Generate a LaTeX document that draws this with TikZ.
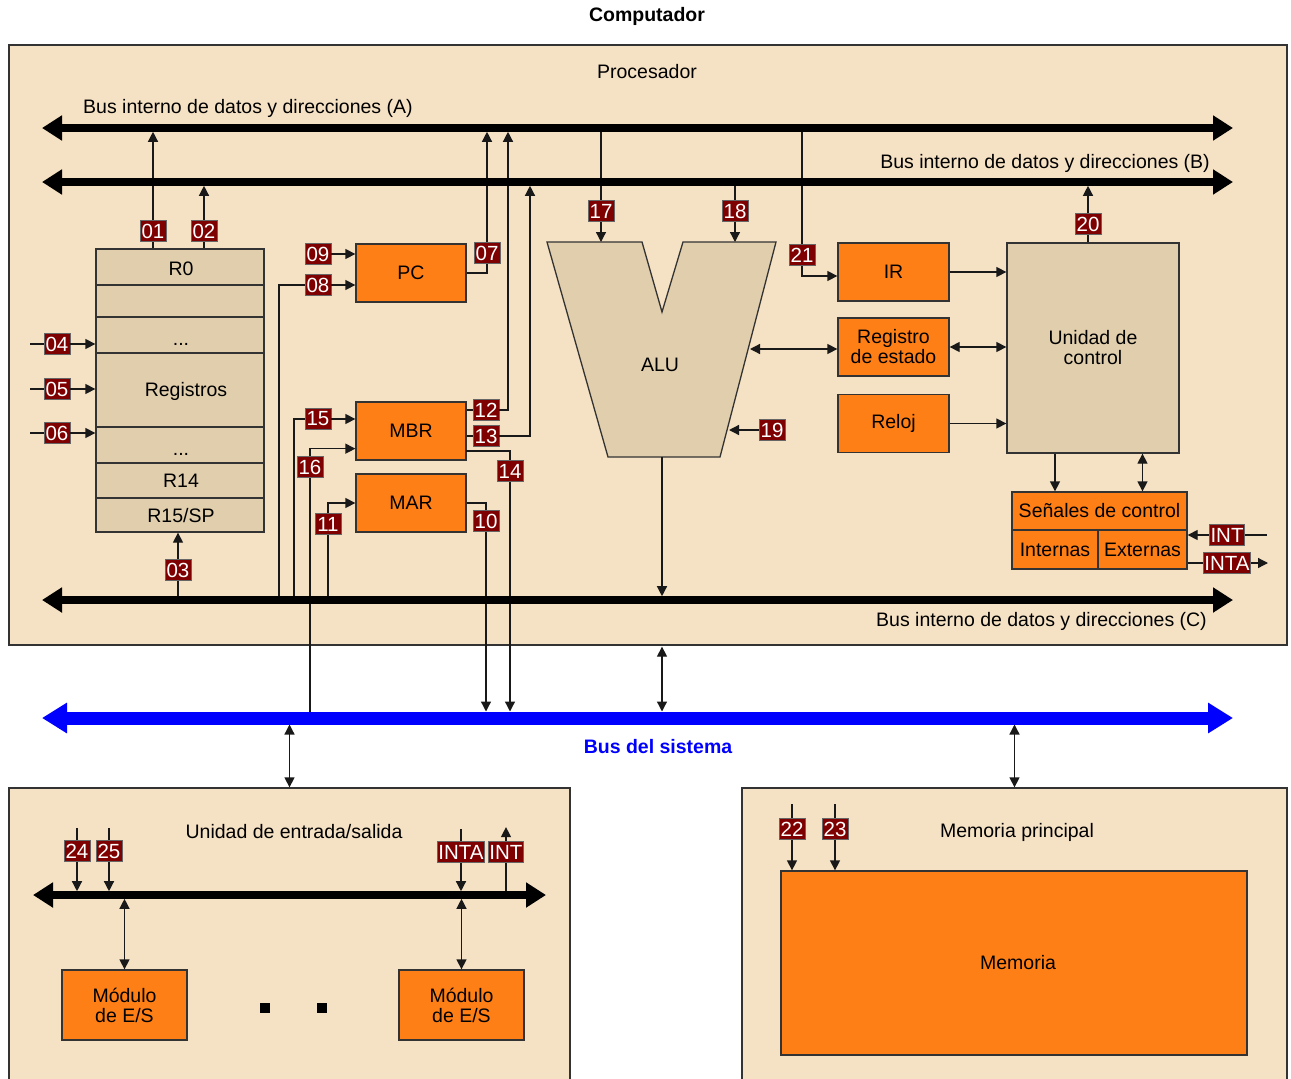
\documentclass[tikz,border=0pt]{standalone}
\usepackage{fontspec}
\setmainfont{Liberation Sans}
\usetikzlibrary{arrows.meta}

\definecolor{panelc}{HTML}{F5E1C3}
\definecolor{tanc}{HTML}{E0CEAD}
\definecolor{orangec}{HTML}{FF7F17}
\definecolor{tagc}{HTML}{7F0000}
\definecolor{framec}{HTML}{333333}
\definecolor{sysblue}{HTML}{0000FF}

\tikzset{
  txt/.style={font=\fontsize{19.5}{20}\selectfont},
  panel/.style={draw=framec,line width=1.3pt,fill=panelc},
  box/.style={draw=framec,line width=1.3pt,fill=orangec,inner sep=0pt,align=center,txt},
  tanbox/.style={box,fill=tanc},
  tag/.style={draw=black!60,line width=0.8pt,fill=tagc,text=white,inner sep=1pt,minimum width=26pt,minimum height=21pt,font=\fontsize{20.5}{21}\selectfont},
  sig/.style={line width=1.3pt,draw=black!90},
  arr/.style={sig,-{Triangle[length=10pt,width=10pt]}},
  biarr/.style={sig,{Triangle[length=10pt,width=10pt]}-{Triangle[length=10pt,width=10pt]}},
  bus/.style={line width=7.5pt,{Triangle[length=20pt,width=24pt]}-{Triangle[length=20pt,width=24pt]}},
  sysbus/.style={line width=13pt,draw=sysblue,{Triangle[length=25pt,width=29pt]}-{Triangle[length=25pt,width=29pt]}},
  tobus/.style={shorten >=3.8pt},
  tosys/.style={shorten >=6.5pt},
}

\begin{document}
\begin{tikzpicture}[x=1pt,y=-1pt]
\useasboundingbox (0,0) rectangle (1291,1079);
\clip (0,0) rectangle (1291,1079);

% frames
\node[font=\fontsize{19.5}{20}\selectfont\bfseries] (title) at (647,16) {Computador};
\node[panel,minimum width=1278pt,minimum height=600pt] (proc) at (648,345) {};
\node[panel,minimum width=561pt,minimum height=320pt] (es) at (289.5,948) {};
\node[panel,minimum width=545pt,minimum height=320pt] (mp) at (1014.5,948) {};

\node[txt] at (647,72) {Procesador};
\node[txt,anchor=west,inner sep=0pt] at (83,108) {Bus interno de datos y direcciones (A)};
\node[txt,anchor=east,inner sep=0pt] at (1210,163) {Bus interno de datos y direcciones (B)};
\node[txt,anchor=east,inner sep=0pt] at (1207,621) {Bus interno de datos y direcciones (C)};
\node[font=\fontsize{19.5}{20}\selectfont\bfseries,text=sysblue] at (658,747) {Bus del sistema};
\node[txt] at (294,832) {Unidad de entrada/salida};
\node[txt] at (1017,832) {Memoria principal};

% buses
\coordinate (busA-w) at (42,128);  \coordinate (busA-e) at (1233,128);
\coordinate (busB-w) at (42,182);  \coordinate (busB-e) at (1233,182);
\coordinate (busC-w) at (42,600);  \coordinate (busC-e) at (1233,600);
\coordinate (sys-w) at (42,718);   \coordinate (sys-e) at (1233,718);
\coordinate (esbus-w) at (33,895); \coordinate (esbus-e) at (546,895);

% registros
\node[tanbox,minimum width=168pt,minimum height=283pt] (regs) at (180,390.5) {};
\foreach \y in {285,317,353,427,463,498}
  \draw[draw=framec,line width=1.3pt] (regs.west |- 0,\y) -- (regs.east |- 0,\y);
\foreach \x/\y/\t in {181/275/R0, 186/396/Registros, 181/487/R14, 181/522/{R15/SP}}
  \node[txt,anchor=base] at (\x,\y) {\t};
\node[txt,anchor=base] at (181,345) {.\kern0pt.\kern0pt.};
\node[txt,anchor=base] at (181,455) {.\kern0pt.\kern0pt.};

% registros de la CPU
\node[box,minimum width=110pt,minimum height=58pt] (pc) at (411,273) {PC};
\node[box,minimum width=110pt,minimum height=58pt] (mbr) at (411,431) {MBR};
\node[box,minimum width=110pt,minimum height=58pt] (mar) at (411,503) {MAR};

% ALU
\coordinate (alu-nw) at (547,242);
\coordinate (alu-s) at (662,457);
\draw[draw=framec,line width=1.3pt,fill=tanc] (alu-nw) -- (642,242) -- (662,312) -- (683,242)
  -- (776,242) -- (720,457) -- (608,457) -- cycle;
\node[txt] (alu) at (660,365) {ALU};
\coordinate (alu-e) at (750,349);
\coordinate (alu-in) at (729,430);

% control
\node[box,minimum width=111pt,minimum height=58pt] (ir) at (893.5,272) {IR};
\node[box,minimum width=111pt,minimum height=58pt] (est) at (893.5,347) {Registro\\de estado};
\node[box,minimum width=111pt,minimum height=58pt] (reloj) at (893.5,423.5) {Reloj};
\node[tanbox,minimum width=172pt,minimum height=210pt] (uc) at (1093,348) {Unidad de\\control};
\node[box,minimum width=175pt,minimum height=38pt] (sen) at (1099.5,511) {Se\~nales de control};
\node[box,minimum width=86pt,minimum height=39pt] (int) at (1055,549.5) {Internas};
\node[box,minimum width=89pt,minimum height=39pt] (ext) at (1142.5,549.5) {Externas};

% entrada/salida y memoria
\node[box,minimum width=125pt,minimum height=70pt] (mod1) at (124.5,1005) {M\'odulo\\de E/S};
\node[box,minimum width=125pt,minimum height=70pt] (mod2) at (461.5,1005) {M\'odulo\\de E/S};
\foreach \x in {265,322}
  \fill (\x-5,1003) rectangle (\x+5,1013);
\node[box,minimum width=466pt,minimum height=184pt] (mem) at (1014,963) {\hspace*{8pt}Memoria};

% etiquetas
\node[tag] (t01) at (153,231) {01};
\node[tag] (t02) at (204,231) {02};
\node[tag] (t03) at (178,570) {03};
\node[tag] (t04) at (57,344) {04};
\node[tag] (t05) at (57,389) {05};
\node[tag] (t06) at (57,433) {06};
\node[tag] (t07) at (487,253) {07};
\node[tag] (t08) at (318,285) {08};
\node[tag] (t09) at (318,254) {09};
\node[tag] (t10) at (486,521) {10};
\node[tag] (t11) at (328,524) {11};
\node[tag] (t12) at (486,410) {12};
\node[tag] (t13) at (486,436) {13};
\node[tag] (t14) at (510,471) {14};
\node[tag] (t15) at (318,419) {15};
\node[tag] (t16) at (310,467) {16};
\node[tag] (t17) at (601,211) {17};
\node[tag] (t18) at (735,211) {18};
\node[tag] (t19) at (772,430) {19};
\node[tag] (t20) at (1088,224) {20};
\node[tag] (t21) at (802,255) {21};
\node[tag] (t22) at (792,829) {22};
\node[tag] (t23) at (835,829) {23};
\node[tag] (t24) at (77,851) {24};
\node[tag] (t25) at (109,851) {25};
\node[tag] (tint) at (1227,535) {INT};
\node[tag] (tinta) at (1227,563) {INTA};
\node[tag] (tinta2) at (461,852) {INTA};
\node[tag] (tint2) at (506,852) {INT};

% conexiones registros
\draw[sig] (regs.north -| t01) -- (t01.south);
\draw[arr,tobus] (t01.north) -- (t01 |- busA-w);
\draw[sig] (regs.north -| t02) -- (t02.south);
\draw[arr,tobus] (t02.north) -- (t02 |- busB-w);
\draw[sig] (t03 |- busC-w) -- (t03.south);
\draw[arr] (t03.north) -- (t03 |- regs.south);
\foreach \t in {04,05,06}{
  \draw[sig] (t\t.west) -- ++(-14,0);
  \draw[arr] (t\t.east) -- (t\t -| regs.west);
}

% PC, MBR, MAR
\coordinate (j08) at (279,600);
\coordinate (j15) at (294,600);
\coordinate (j11) at (328,600);
\coordinate (j16) at (310,718);
\coordinate (up12) at (508,128);
\coordinate (up13) at (530,182);
\coordinate (o14) at (466,451);
\draw[arr] (t09.east) -- (t09 -| pc.west);
\draw[sig] (j08) |- (t08.west);
\draw[arr] (t08.east) -- (t08 -| pc.west);
\draw[sig] (pc.east) -| (t07.south);
\draw[arr,tobus] (t07.north) -- (t07 |- busA-w);
\draw[sig] (t12 -| mbr.east) -- (t12.west);
\draw[arr,tobus] (t12.east) -| (up12);
\draw[sig] (t13 -| mbr.east) -- (t13.west);
\draw[arr,tobus] (t13.east) -| (up13);
\draw[sig] (o14) -| (t14.north);
\draw[arr,tosys] (t14.south) -- (t14 |- sys-w);
\draw[sig] (j15) |- (t15.west);
\draw[arr] (t15.east) -- (t15 -| mbr.west);
\draw[sig] (j16) -- (t16.south);
\draw[arr] (t16.north) |- ([yshift=12pt]mbr.south west);
\draw[sig] (j11) -- (t11.south);
\draw[arr] (t11.north) |- (mar.west);
\draw[sig] (mar.east) -| (t10.north);
\draw[arr,tosys] (t10.south) -- (t10 |- sys-w);

% ALU
\draw[sig] (t17 |- busA-w) -- (t17.north);
\draw[arr] (t17.south) -- (t17 |- alu-nw);
\draw[sig] (t18 |- busB-w) -- (t18.north);
\draw[arr] (t18.south) -- (t18 |- alu-nw);
\draw[arr] (t19.west) -- (alu-in);
\draw[arr,tobus] (alu-s) -- (alu-s |- busC-w);
\draw[biarr] (alu-e) -- (alu-e -| est.west);

% unidad de control
\draw[sig] (t21 |- busA-w) -- (t21.north);
\draw[arr] (t21.south) |- ([yshift=-4pt]ir.west);
\draw[arr] (ir.east) -- (ir.east -| uc.west);
\draw[biarr] (est.east) -- (est.east -| uc.west);
\draw[arr] (reloj.east) -- (reloj.east -| uc.west);
\draw[sig] (uc.north -| t20) -- (t20.south);
\draw[arr,tobus] (t20.north) -- (t20 |- busB-w);
\draw[arr] (uc.south -| int) -- (sen.north -| int);
\draw[biarr] (uc.south -| ext) -- (sen.north -| ext);
\draw[sig] (tint.east) -- ++(22,0);
\draw[arr] (tint.west) -- (tint -| sen.east);
\draw[sig] (tinta -| ext.east) -- (tinta.west);
\draw[arr] (tinta.east) -- ++(17,0);

% bus del sistema
\draw[biarr,shorten <=1pt,tosys] (proc.south -| alu-s) -- (alu-s |- sys-w);
\draw[biarr,shorten <=6.5pt] (es.north |- sys-w) -- (es.north);
\draw[biarr,shorten <=6.5pt] (mp.north |- sys-w) -- (mp.north);

% entrada/salida
\foreach \t in {t24,t25,tinta2}{
  \draw[sig] (\t.north) -- ++(0,-12);
  \draw[arr,tobus] (\t.south) -- (\t |- esbus-w);
}
\draw[sig] (tint2 |- esbus-w) -- (tint2.south);
\draw[arr] (tint2.north) -- ++(0,-14);
\draw[biarr,shorten <=3.8pt] (mod1.north |- esbus-w) -- (mod1.north);
\draw[biarr,shorten <=3.8pt] (mod2.north |- esbus-w) -- (mod2.north);

% memoria
\foreach \t in {t22,t23}{
  \draw[sig] (\t.north) -- ++(0,-14);
  \draw[arr] (\t.south) -- (\t |- mem.north);
}

% buses encima
\draw[bus] (busA-w) -- (busA-e);
\draw[bus] (busB-w) -- (busB-e);
\draw[bus] (busC-w) -- (busC-e);
\draw[bus] (esbus-w) -- (esbus-e);
\draw[sysbus] (sys-w) -- (sys-e);

\end{tikzpicture}
\end{document}
